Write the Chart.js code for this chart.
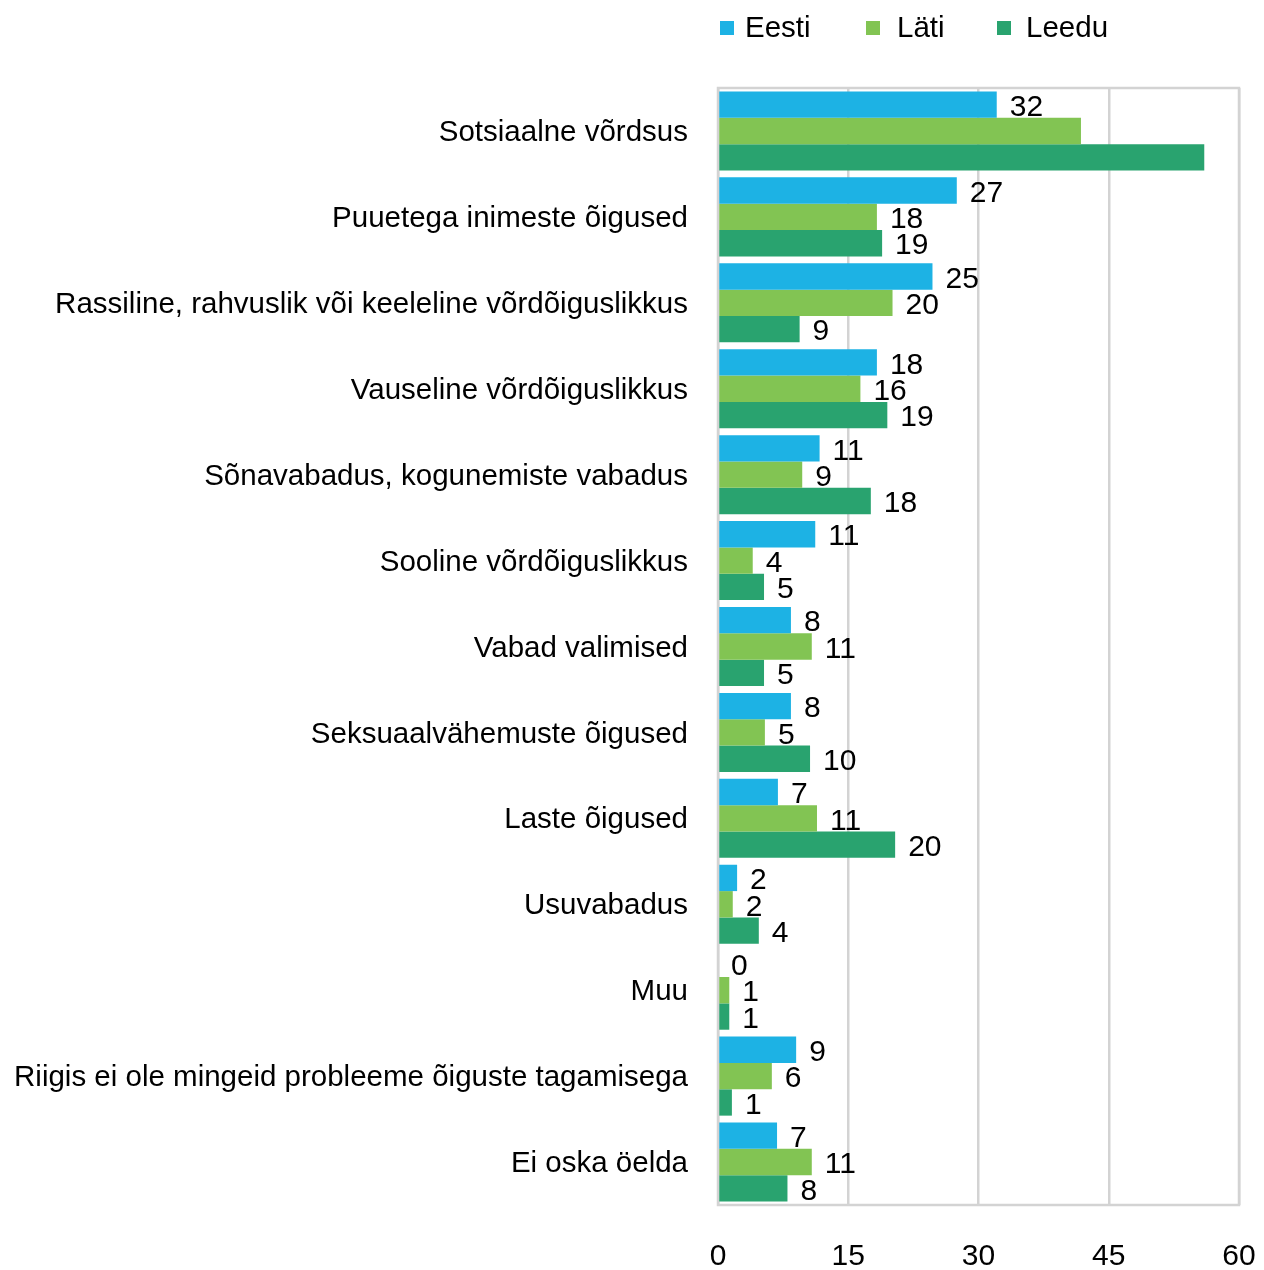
<!DOCTYPE html>
<html>
<head>
<meta charset="utf-8">
<script src="https://cdn.jsdelivr.net/npm/chart.js@4.4.1/dist/chart.umd.min.js"></script>
<style>
  html, body { margin: 0; padding: 0; background: #fff; }
  #wrap { width: 1264px; height: 1270px; }
</style>
</head>
<body>
<div id="wrap"><canvas id="chart"></canvas></div>
<script>
const categories = [
    'Sotsiaalne võrdsus',
    'Puuetega inimeste õigused',
    'Rassiline, rahvuslik või keeleline võrdõiguslikkus',
    'Vauseline võrdõiguslikkus',
    'Sõnavabadus, kogunemiste vabadus',
    'Sooline võrdõiguslikkus',
    'Vabad valimised',
    'Seksuaalvähemuste õigused',
    'Laste õigused',
    'Usuvabadus',
    'Muu',
    'Riigis ei ole mingeid probleeme õiguste tagamisega',
    'Ei oska öelda'
];

const seriesNames = ['Eesti', 'Läti', 'Leedu'];
const seriesColors = ['#1db2e4', '#82c453', '#29a36f'];

// bar lengths
const eesti = [32.1, 27.5, 24.7, 18.3, 11.7, 11.2, 8.4, 8.4, 6.9, 2.2, 0, 9.0, 6.8];
const lati  = [41.8, 18.3, 20.1, 16.4, 9.7, 4.0, 10.8, 5.4, 11.4, 1.7, 1.3, 6.2, 10.8];
const leedu = [56.0, 18.9, 9.4, 19.5, 17.6, 5.3, 5.3, 10.6, 20.4, 4.7, 1.3, 1.6, 8.0];

// printed value labels (null = no label shown)
const eestiLabels = [32, 27, 25, 18, 11, 11, 8, 8, 7, 2, 0, 9, 7];
const latiLabels  = [null, 18, 20, 16, 9, 4, 11, 5, 11, 2, 1, 6, 11];
const leeduLabels = [null, 19, 9, 19, 18, 5, 5, 10, 20, 4, 1, 1, 8];

const xTicks = [0, 15, 30, 45, 60];

const FONT = '"Liberation Sans", Arial, Helvetica, sans-serif';
const GRID = '#d3d3d3';

const valueLabels = [eestiLabels, latiLabels, leeduLabels];

const plotFrame = {
    id: 'plotFrame',
    beforeDatasetsDraw(chart) {
        const a = chart.chartArea;
        const c = chart.ctx;
        c.save();
        c.strokeStyle = GRID;
        c.lineWidth = 2.5;
        c.strokeRect(a.left, a.top, a.right - a.left, a.bottom - a.top);
        c.restore();
    }
};

const barValues = {
    id: 'barValues',
    afterDatasetsDraw(chart) {
        const c = chart.ctx;
        c.save();
        c.font = '30px ' + FONT;
        c.fillStyle = '#000';
        c.textAlign = 'left';
        c.textBaseline = 'middle';
        chart.data.datasets.forEach((ds, i) => {
            chart.getDatasetMeta(i).data.forEach((bar, j) => {
                const v = valueLabels[i][j];
                if (v === null) return;
                c.fillText(String(v), bar.x + 13, bar.y + 3);
            });
        });
        c.restore();
    }
};

// legend sits over the plot, drawn by hand
const legendSpots = [720, 866, 997];
const topLegend = {
    id: 'topLegend',
    afterDraw(chart) {
        const c = chart.ctx;
        c.save();
        c.font = '29.5px ' + FONT;
        c.textBaseline = 'middle';
        c.textAlign = 'left';
        seriesNames.forEach((name, i) => {
            const x = legendSpots[i];
            c.fillStyle = seriesColors[i];
            c.fillRect(x, 21, 14, 14);
            c.fillStyle = '#000';
            c.fillText(name, x + 25 + (i === 1 ? 6 : 0) + (i === 2 ? 4 : 0), 29);
        });
        c.restore();
    }
};

new Chart(document.getElementById('chart'), {
    type: 'bar',
    data: {
        labels: categories,
        datasets: [eesti, lati, leedu].map((d, i) => ({
            label: seriesNames[i],
            data: d,
            backgroundColor: seriesColors[i],
            borderWidth: 0
        }))
    },
    options: {
        indexAxis: 'y',
        responsive: true,
        maintainAspectRatio: false,
        animation: false,
        layout: {
            padding: { top: 88, right: 25, bottom: 0, left: 0 }
        },
        datasets: {
            bar: {
                barPercentage: 1,
                categoryPercentage: 0.92
            }
        },
        plugins: {
            legend: { display: false },
            tooltip: { enabled: false }
        },
        scales: {
            x: {
                min: 0,
                max: 60,
                afterBuildTicks: (s) => { s.ticks = xTicks.map(v => ({ value: v })); },
                afterFit: (s) => {
                    s.height = 65;
                    s.paddingLeft = 0;
                    s.paddingRight = 0;
                },
                grid: {
                    color: GRID,
                    lineWidth: 2.5,
                    drawTicks: false
                },
                border: { display: false },
                ticks: {
                    padding: 34,
                    color: '#000',
                    maxRotation: 0,
                    font: { size: 30, family: FONT }
                }
            },
            y: {
                afterFit: (s) => {
                    s.width = 718;
                    s.paddingTop = 0;
                    s.paddingBottom = 0;
                },
                grid: { display: false, drawTicks: false },
                border: { display: false },
                ticks: {
                    padding: 30,
                    labelOffset: 2,
                    color: '#000',
                    autoSkip: false,
                    font: { size: 29.5, family: FONT }
                }
            }
        }
    },
    plugins: [plotFrame, barValues, topLegend]
});
</script>
</body>
</html>
